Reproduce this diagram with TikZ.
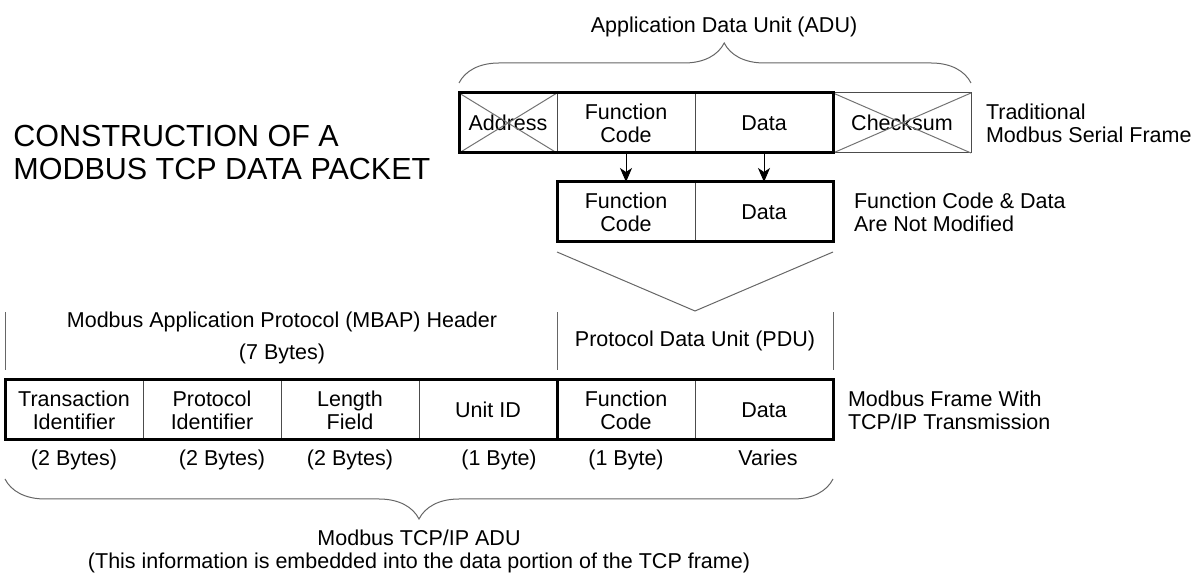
\documentclass[tikz,border=0pt]{standalone}
\usepackage{fontspec}
\setmainfont{Liberation Sans}
\usetikzlibrary{arrows.meta}
\usetikzlibrary{decorations.pathreplacing}
\usetikzlibrary{positioning}

\begin{document}
\begin{tikzpicture}[x=0.5pt,y=-0.5pt,
  cell/.style={rectangle,draw=black!70,line width=0.5pt,minimum width=69pt,minimum height=30pt,inner sep=0pt,outer sep=0pt,align=center,font=\fontsize{10.75pt}{11.5pt}\selectfont},
  outline/.style={draw=black,line width=1.5pt},
  strike/.style={draw=black!55,line width=0.5pt},
  flow/.style={draw=black,line width=0.5pt,-{Stealth[length=7pt,width=6pt,inset=2pt]}},
  guide/.style={draw=black!60,line width=0.5pt},
  adubrace/.style={guide,decorate,decoration={brace,amplitude=20pt}},
  lbl/.style={inner sep=0pt,outer sep=0pt,align=center,font=\fontsize{10.75pt}{11.5pt}\selectfont},
  bytes/.style={lbl,text height=7.9pt,text depth=2.3pt},
  side/.style={lbl,align=left},
  heading/.style={inner sep=0pt,align=left,anchor=west,font=\fontsize{15.25pt}{16.5pt}\selectfont}]
\useasboundingbox (0,0) rectangle (1199,581);

\node [heading] (caption) at (13,152.5) {CONSTRUCTION OF A\\MODBUS TCP DATA PACKET};

\node [cell,minimum width=49pt,anchor=west] (tadr) at (459,123) {Address};
\node [cell,right=0pt,at=(tadr.east)] (tfc) {Function\\Code};
\node [cell,right=0pt,at=(tfc.east)] (tdat) {Data};
\node [cell,right=0pt,at=(tdat.east)] (tchk) {Checksum};
\draw [strike] (tadr.north west) -- (tadr.south east) (tadr.south west) -- (tadr.north east);
\draw [strike] (tchk.north west) -- (tchk.south east) (tchk.south west) -- (tchk.north east);
\draw [outline] (tadr.north west) rectangle (tdat.south east);
\node [side,right=7.5pt,at=(tchk.east)] (serial) {Traditional\\Modbus Serial Frame};

\draw [adubrace,decoration={aspect=0.518}] ([yshift=5pt]tadr.north west) -- ([yshift=5pt]tchk.north east)
  node [lbl,midway,above=23.25pt,xshift=4.5pt] (adu) {Application Data Unit (ADU)};

\node [cell,below=14.5pt,at=(tfc.south)] (mfc) {Function\\Code};
\node [cell,right=0pt,at=(mfc.east)] (mdat) {Data};
\draw [outline] (mfc.north west) rectangle (mdat.south east);
\node [side,right=10.5pt,at=(mdat.east)] (kept) {Function Code \& Data\\Are Not Modified};

\draw [flow] (tfc.south) -- (mfc.north);
\draw [flow] (tdat.south) -- (mdat.north);

\coordinate (vtip) at ([yshift=-34.5pt]mfc.south east);
\draw [guide] ([yshift=-5pt]mfc.south west) -- (vtip) -- ([yshift=-5pt]mdat.south east);

\node [cell,below=69pt,at=(mfc.south)] (bfc) {Function\\Code};
\node [cell,right=0pt,at=(bfc.east)] (bdat) {Data};
\node [cell,left=0pt,at=(bfc.west)] (buid) {Unit ID};
\node [cell,left=0pt,at=(buid.west)] (blen) {Length\\Field};
\node [cell,left=0pt,at=(blen.west)] (bpid) {Protocol\\Identifier};
\node [cell,left=0pt,at=(bpid.west)] (btid) {Transaction\\Identifier};
\draw [outline] (btid.north west) rectangle (buid.south east);
\draw [outline] (bfc.north west) rectangle (bdat.south east);
\node [side,right=7.5pt,at=(bdat.east)] (tcpip) {Modbus Frame With\\TCP/IP Transmission};

\node [bytes,below=5pt,at=(btid.south)] (ytid) {(2 Bytes)};
\node [bytes,below=5pt,at=(bpid.south),xshift=5pt] (ypid) {(2 Bytes)};
\node [bytes,below=5pt,at=(blen.south)] (ylen) {(2 Bytes)};
\node [bytes,below=5pt,at=(buid.south),xshift=5.5pt] (yuid) {(1 Byte)};
\node [bytes,below=5pt,at=(bfc.south)] (yfc) {(1 Byte)};
\node [bytes,below=5pt,at=(bdat.south),xshift=2pt] (ydat) {Varies};

\draw [guide] ([yshift=5pt]btid.north west) -- ++(0,-58);
\draw [guide] ([yshift=5pt]bfc.north west) -- ++(0,-58);
\draw [guide] ([yshift=5pt]bdat.north east) -- ++(0,-58);
\node [lbl,font=\fontsize{10.75pt}{16pt}\selectfont] (mbap) at (282,338) {Modbus Application Protocol (MBAP) Header\\(7 Bytes)};
\node [lbl,above=14.5pt,at=(bfc.north east)] (pdu) {Protocol Data Unit (PDU)};

\draw [adubrace,decoration={aspect=0.5}] ([yshift=-19.5pt]bdat.south east) -- ([yshift=-19.5pt]btid.south west)
  node [lbl,midway,below=25.3pt] (tcpadu) {Modbus TCP/IP ADU\\(This information is embedded into the data portion of the TCP frame)};
\end{tikzpicture}
\end{document}
